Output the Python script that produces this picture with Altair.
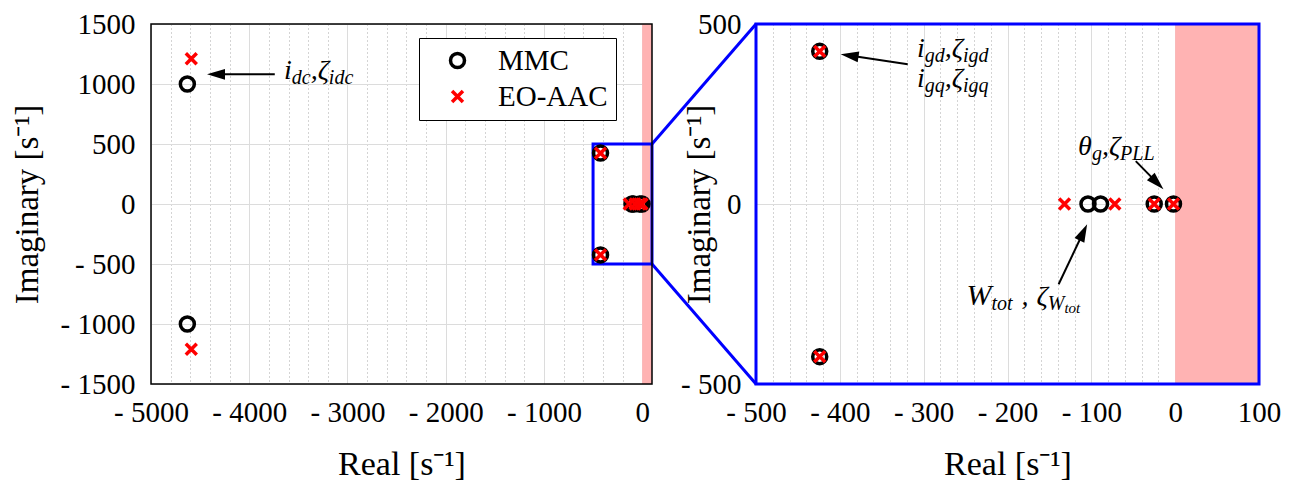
import math
import altair as alt
import pandas as pd

# ---------------- data ----------------
series_names = ["MMC", "EO-AAC"]
mmc_real = [-4630, -4630, -424, -424, -104, -89, -25, -2]
mmc_imag = [1000, -1000, 424, -424, 0, 0, 0, 0]
eo_real = [-4590, -4590, -424, -424, -132, -72, -25, -2]
eo_imag = [1210, -1210, 424, -424, 0, 0, 0, 0]

left_x_domain = [-5000, 100]
left_y_domain = [-1500, 1500]
right_x_domain = [-500, 100]
right_y_domain = [-500, 500]

left_x_ticks = [-5000, -4000, -3000, -2000, -1000, 0]
left_y_ticks = [-1500, -1000, -500, 0, 500, 1000, 1500]
right_x_ticks = [-500, -400, -300, -200, -100, 0, 100]
right_y_ticks = [-500, 0, 500]
left_x_minor_step = 200
right_x_minor_step = 20

unstable_region = [0, 100]          # shaded right half-plane
zoom_box = [-500, 100, -500, 500]   # x, x2, y, y2

# annotations: (tail x, tail y) -> (head x, head y)
left_arrows = [(-3740, 1081, -4430, 1081)]
right_arrows = [(-319, 388, -399, 416), (-47, 119, -14, 41), (-139, -223, -105, -56)]

# ---------------- layout / style ----------------
WL, WR, H, GAP = 501, 503, 360, 104
FONT = "Liberation Serif"
MAIN, SUB, SUBSUB = 28, 20, 15
XPATH = "M-0.78,-0.78L0.78,0.78M-0.78,0.78L0.78,-0.78"
HEADPATH = "M1,0L-1,-0.6L-1,0.6Z"

ppx_L = WL / (left_x_domain[1] - left_x_domain[0])
ppy_L = H / (left_y_domain[1] - left_y_domain[0])
ppx_R = WR / (right_x_domain[1] - right_x_domain[0])
ppy_R = H / (right_y_domain[1] - right_y_domain[0])

CW = {'i': .278, 'd': .5, 'c': .444, 'g': .5, 'q': .5, 't': .278, 'o': .5,
      'P': .611, 'L': .556, 'W': .833, 'ζ': .40, 'θ': .5, ',': .25, ' ': .25}


def run(ax, ay, parts, ppx, ppy):
    """parts: (text, font size, baseline drop px, gap before px)"""
    rows, x = [], 0.0
    for t, s, drop, gap in parts:
        x += gap
        rows.append({"tx": ax + x / ppx, "ty": ay - drop / ppy, "text": t, "fs": s})
        x += sum(CW.get(ch, .5) for ch in t) * s
    return rows


left_text = run(-3646, 1042, [("i", MAIN, 0, 0), ("dc", SUB, 5, 0), (",ζ", MAIN, 0, 0),
                              ("idc", SUB, 5, 0)], ppx_L, ppy_L)
right_text = (
    run(-308, 408, [("i", MAIN, 0, 0), ("gd", SUB, 5, 0), (",ζ", MAIN, 0, 0), ("igd", SUB, 5, 0)],
        ppx_R, ppy_R)
    + run(-308, 325, [("i", MAIN, 0, 0), ("gq", SUB, 5, 0), (",ζ", MAIN, 0, 0), ("igq", SUB, 5, 0)],
          ppx_R, ppy_R)
    + run(-116, 136, [("θ", MAIN, 0, 0), ("g", SUB, 5, 0), (",ζ", MAIN, 0, 0), ("PLL", SUB, 5, 0)],
          ppx_R, ppy_R)
    + run(-249, -280, [("W", MAIN + 2, 0, 0), ("tot", SUB, 5, 0), (",", MAIN, 0, 9), ("ζ", MAIN, 0, 8),
                       ("W", SUB, 5, 0), ("tot", SUBSUB, 8, 0)], ppx_R, ppy_R)
)


def arrow_frames(arrows, ppx, ppy):
    shafts, heads = [], []
    for tx, ty, hx, hy in arrows:
        dx = (hx - tx) * ppx
        dy = -(hy - ty) * ppy
        L = math.hypot(dx, dy)
        ux, uy = dx / L, dy / L
        ang = math.degrees(math.atan2(dy, dx)) % 360
        cx = hx - 9 * ux / ppx
        cy = hy + 9 * uy / ppy
        shafts.append({"ax": tx, "ay": ty, "bx": cx, "by": cy})
        heads.append({"cx": cx, "cy": cy, "ang": ang})
    return pd.DataFrame(shafts), pd.DataFrame(heads)


pts = pd.DataFrame({
    "re": mmc_real + eo_real,
    "im": mmc_imag + eo_imag,
    "series": ["MMC"] * len(mmc_real) + ["EO-AAC"] * len(eo_real),
})

LABEL_EXPR = "datum.value < 0 ? '- ' + format(-datum.value, 'd') : format(datum.value, 'd')"


def x_axis(major, step, lo, hi):
    vals = list(range(lo, hi + 1, step))
    test = " || ".join(f"datum.value === {v}" for v in major)
    return alt.Axis(
        values=vals, grid=True, ticks=False, tickSize=0, domain=False,
        labelExpr=f"({test}) ? ({LABEL_EXPR}) : ''",
        labelOverlap=False, labelFlush=False, labelBound=False,
        labelFont=FONT, labelFontSize=29, labelColor="black",
        labelBaseline="alphabetic", labelPadding=37,
        gridColor={"condition": {"test": test, "value": "#dcdcdc"}, "value": "#a8a8a8"},
        gridDash={"condition": {"test": test, "value": []}, "value": [1, 3]},
        gridWidth=1,
        title="Real [s⁻¹]", titleFont=FONT, titleFontSize=34, titleFontWeight="normal",
        titleColor="black", titleBaseline="alphabetic", titleY=90, titleAnchor="middle",
    )


def y_axis(vals, title_x, pad):
    return alt.Axis(
        values=vals, grid=True, ticks=False, tickSize=0, domain=False,
        labelExpr=LABEL_EXPR, labelOverlap=False, labelFlush=False, labelBound=False,
        labelFont=FONT, labelFontSize=29, labelColor="black", labelPadding=pad,
        gridColor="#dcdcdc", gridWidth=1,
        title="Imaginary [s⁻¹]", titleFont=FONT, titleFontSize=33, titleFontWeight="normal",
        titleColor="black", titleX=title_x, titleY=H / 2, titleAngle=270,
        titleBaseline="alphabetic", titleAlign="center",
    )


def panel(xdom, ydom, W, xticks, xstep, yticks, title_x, ypad, frame_color, frame_w,
          text_rows, arrows, ppx, ppy, legend, extra=()):
    xs = alt.Scale(domain=xdom, nice=False, zero=False)
    ys = alt.Scale(domain=ydom, nice=False, zero=False)
    xa = x_axis(xticks, xstep, xticks[0], xticks[-1])
    ya = y_axis(yticks, title_x, ypad)

    def X(f):
        return alt.X(f, type="quantitative", scale=xs, axis=xa)

    def Y(f):
        return alt.Y(f, type="quantitative", scale=ys, axis=ya)

    shade = alt.Chart(pd.DataFrame({"a": [unstable_region[0]], "b": [unstable_region[1]],
                                    "c": [ydom[0]], "d": [ydom[1]]})).mark_rect(
        color="#ffb3b3", opacity=1).encode(x=X("a"), x2="b", y=Y("c"), y2="d")

    dpts = pts[(pts.re >= xdom[0]) & (pts.re <= xdom[1])]
    points = alt.Chart(dpts).mark_point(filled=False, size=196, strokeWidth=3.5, opacity=1).encode(
        x=X("re"), y=Y("im"),
        color=alt.Color("series:N", scale=alt.Scale(domain=series_names, range=["#000000", "#ff0000"]),
                        legend=legend),
        shape=alt.Shape("series:N", scale=alt.Scale(domain=series_names, range=["circle", XPATH]),
                        legend=legend),
    )

    shafts, heads = arrow_frames(arrows, ppx, ppy)
    shaft = alt.Chart(shafts).mark_rule(color="black", strokeWidth=2).encode(
        x=X("ax"), y=Y("ay"), x2="bx", y2="by")
    head = alt.Chart(heads).mark_point(shape=HEADPATH, filled=True, color="black", size=324,
                                       strokeWidth=0, opacity=1).encode(
        x=X("cx"), y=Y("cy"), angle=alt.Angle("ang:Q", scale=None))
    txt = alt.Chart(pd.DataFrame(text_rows)).mark_text(
        font=FONT, fontStyle="italic", align="left", baseline="alphabetic", color="black").encode(
        x=X("tx"), y=Y("ty"), text="text:N", size=alt.Size("fs:Q", scale=None))

    frame = alt.Chart(pd.DataFrame({"k": [0]})).mark_rect(
        fill="transparent", stroke=frame_color, strokeWidth=frame_w).encode(
        x=alt.value(0), x2=alt.value(W), y=alt.value(0), y2=alt.value(H))

    layers = [shade] + list(extra(X, Y) if extra else []) + [points, shaft, head, txt, frame]
    return alt.layer(*layers).properties(width=W, height=H)


def left_extra(X, Y):
    box = alt.Chart(pd.DataFrame({"a": [zoom_box[0]], "b": [zoom_box[1]],
                                  "c": [zoom_box[2]], "d": [zoom_box[3]]})).mark_rect(
        fill="transparent", stroke="#0000ff", strokeWidth=3).encode(x=X("a"), x2="b", y=Y("c"), y2="d")
    conn = alt.Chart(pd.DataFrame({"a": [zoom_box[1], zoom_box[1]],
                                   "c": [zoom_box[3], zoom_box[2]],
                                   "d": [left_y_domain[1], left_y_domain[0]]})).mark_rule(
        color="#0000ff", strokeWidth=3).encode(x=X("a"), x2=alt.value(WL + GAP), y=Y("c"), y2="d")
    return [box, conn]


legend = alt.Legend(
    title=None, orient="none", legendX=268, legendY=14, direction="vertical",
    labelFont=FONT, labelFontSize=29, labelColor="black", labelLimit=300,
    symbolSize=196, symbolStrokeWidth=3.5, symbolOffset=16, labelOffset=26,
    padding=8, rowPadding=6, strokeColor="black", fillColor="white",
)

left = panel(left_x_domain, left_y_domain, WL, left_x_ticks, left_x_minor_step, left_y_ticks,
             -114, 16, "black", 1.5, left_text, left_arrows, ppx_L, ppy_L, legend, left_extra)
right = panel(right_x_domain, right_y_domain, WR, right_x_ticks, right_x_minor_step, right_y_ticks,
              -47, 15, "#0000ff", 3, right_text, right_arrows, ppx_R, ppy_R, None)

chart = alt.hconcat(left, right, spacing=GAP, bounds="flush").resolve_scale(
    color="independent", shape="independent").properties(
    padding={"left": 3, "top": 2, "right": 5, "bottom": 0}, background="white"
).configure_view(strokeWidth=0)

chart.save("out.html", embed_options={"renderer": "svg", "actions": False})
